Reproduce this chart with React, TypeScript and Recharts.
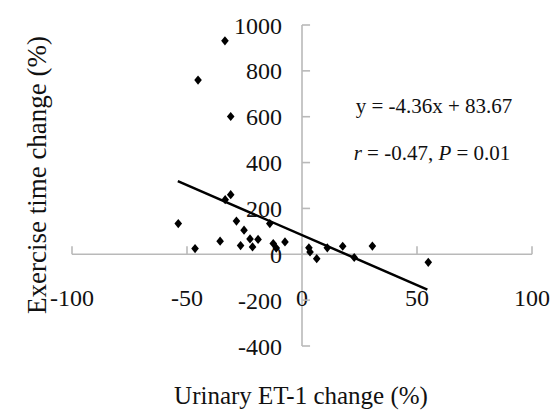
import React from 'react';
import { ScatterChart, Scatter, XAxis, YAxis, ReferenceLine } from 'recharts';

// Data
const etChange = [-53.8, -46.5, -45.2, -35.6, -33.5, -33.4, -31, -31, -28.5, -25.2, -26.7, -22.6, -21.5, -19.1, -14.0, -12.5, -11.2, -7.4, 3.0, 3.5, 6.4, 11.0, 17.7, 22.7, 30.6, 54.9];
const exerciseChange = [134, 25, 760, 57, 931, 238, 260, 601, 145, 105, 38, 67, 32, 65, 134, 47, 27, 54, 28, 10, -19, 28, 35, -14, 36, -35];

const xTicks = [-100, -50, 0, 50, 100];
const yTicks = [-400, -200, 0, 200, 400, 600, 800, 1000];

// Fitted line: y = -4.36x + 83.67, drawn over the range of the data
const fitSlope = -4.36;
const fitIntercept = 83.67;
const fitRange = [-54, 54.5];

const points = etChange.map((x, i) => ({ x, y: exerciseChange[i] }));

const FONT = "Liberation Serif";
const AXIS_COLOR = '#b9b9b9';

const Diamond = (props: any) => {
  const { cx, cy } = props;
  if (cx == null || cy == null) return null;
  const w = 3.8;
  const h = 4.6;
  return (
    <polygon
      points={`${cx},${cy - h} ${cx + w},${cy} ${cx},${cy + h} ${cx - w},${cy}`}
      fill="#000"
    />
  );
};

const xTickLabel = (text: string) => (props: any) => {
  const vb = props.viewBox || {};
  const x = (vb.x ?? 0) + (vb.width ?? 0) / 2;
  const y = (vb.y ?? 0) + (vb.height ?? 0);
  return (
    <text x={x} y={y + 52} textAnchor="middle" style={{ fontFamily: FONT, fontSize: 24 }} fill="#111">
      {text}
    </text>
  );
};

const yTickLabel = (text: string) => (props: any) => {
  const vb = props.viewBox || {};
  const x = vb.x ?? 0;
  const y = (vb.y ?? 0) + (vb.height ?? 0) / 2;
  return (
    <text x={x - 20} y={y + 8.5} textAnchor="end" style={{ fontFamily: FONT, fontSize: 24 }} fill="#111">
      {text}
    </text>
  );
};

export default function App() {
  const W = 552;
  const H = 411;
  const txt = { fontFamily: FONT };
  return (
    <div style={{ position: 'absolute', left: 0, top: 0, width: W, height: H, background: '#fff', fontFamily: FONT }}>
      <ScatterChart width={W} height={H} margin={{ top: 25, right: 20, bottom: 65, left: 72 }}>
        <XAxis type="number" dataKey="x" domain={[-100, 100]} ticks={xTicks} hide allowDataOverflow />
        <YAxis type="number" dataKey="y" domain={[-400, 1000]} ticks={yTicks} hide allowDataOverflow />
        <ReferenceLine y={0} stroke={AXIS_COLOR} strokeWidth={1.6} ifOverflow="visible" />
        <ReferenceLine x={0} stroke={AXIS_COLOR} strokeWidth={1.6} ifOverflow="visible" />
        {xTicks.map((t) => (
          <ReferenceLine
            key={'xt' + t}
            segment={[{ x: t, y: 0 }, { x: t, y: 35 }]}
            stroke={AXIS_COLOR}
            strokeWidth={1.6}
            ifOverflow="visible"
            label={xTickLabel(String(t))}
          />
        ))}
        {yTicks.map((t) => (
          <ReferenceLine
            key={'yt' + t}
            segment={[{ x: 0, y: t }, { x: 3.5, y: t }]}
            stroke={AXIS_COLOR}
            strokeWidth={1.6}
            ifOverflow="visible"
            label={yTickLabel(String(t))}
          />
        ))}
        <ReferenceLine
          segment={[
            { x: fitRange[0], y: fitSlope * fitRange[0] + fitIntercept },
            { x: fitRange[1], y: fitSlope * fitRange[1] + fitIntercept },
          ]}
          stroke="#000"
          strokeWidth={2.5}
          ifOverflow="visible"
        />
        <Scatter data={points} shape={Diamond} isAnimationActive={false} />
      </ScatterChart>
      <svg
        width={W}
        height={H}
        style={{ position: 'absolute', left: 0, top: 0, pointerEvents: 'none' }}
      >
        <text
          transform="translate(37,175) rotate(-90)"
          textAnchor="middle"
          dominantBaseline="central"
          style={{ ...txt, fontSize: 27 }}
          fill="#111"
        >
          Exercise time change (%)
        </text>
        <text x={301} y={404} textAnchor="middle" style={{ ...txt, fontSize: 25 }} fill="#111">
          Urinary ET-1 change (%)
        </text>
        <text x={434} y={113} textAnchor="middle" style={{ ...txt, fontSize: 21 }} fill="#111">
          y = -4.36x + 83.67
        </text>
        <text x={432} y={160} textAnchor="middle" style={{ ...txt, fontSize: 21 }} fill="#111">
          <tspan fontStyle="italic">r</tspan>
          <tspan> = -0.47, </tspan>
          <tspan fontStyle="italic">P</tspan>
          <tspan> = 0.01</tspan>
        </text>
      </svg>
    </div>
  );
}
